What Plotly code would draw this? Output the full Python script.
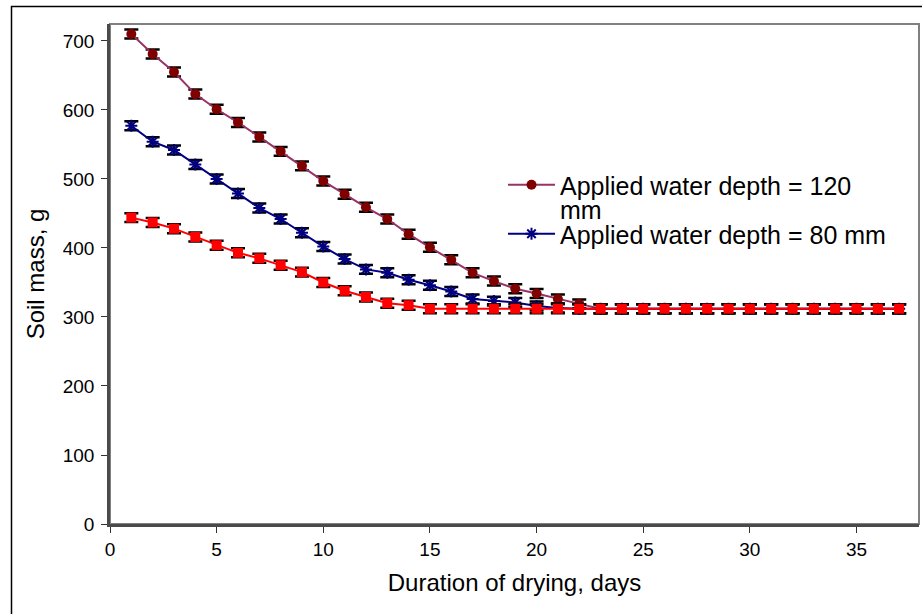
import plotly.graph_objects as go

days = list(range(1, 38))

mass_120 = [710, 681, 655, 623, 601, 582, 561, 540, 519, 497, 478, 459, 442, 420, 401,
            383, 364, 352, 341, 334, 326, 319, 312, 312, 312, 312, 312, 312, 312, 312,
            312, 312, 312, 312, 312, 312, 312]
mass_80 = [577, 554, 542, 521, 500, 479, 458, 442, 422, 402, 384, 369, 364, 354, 346,
           337, 326, 323, 321, 316, 313, 312, 312, 312, 312, 312, 312, 312, 312, 312,
           312, 312, 312, 312, 312, 312, 312]
mass_40 = [444, 437, 428, 416, 404, 393, 385, 375, 365, 350, 338, 329, 320, 317, 312,
           312, 312, 312, 312, 312, 312, 312, 312, 312, 312, 312, 312, 312, 312, 312,
           312, 312, 312, 312, 312, 312, 312]
err_120 = 6.5
err_80 = 6.5
err_40 = 6.5

name_120 = "Applied water depth = 120"
name_120_wrap = "mm"
name_80 = "Applied water depth = 80 mm"
name_40 = "Applied water depth = 40 mm"

x_title = "Duration of drying, days"
y_title = "Soil mass, g"

FONT = "Liberation Sans, Arial, sans-serif"

def ebar(v):
    return dict(type="constant", value=v, color="black", thickness=2.5, width=7)

fig = go.Figure()
fig.add_trace(go.Scatter(
    x=days, y=mass_120, name=name_120, mode="lines+markers", legend="legend",
    line=dict(color="#993366", width=2),
    marker=dict(symbol="circle", size=10, color="#800000"),
    error_y=ebar(err_120)))
fig.add_trace(go.Scatter(
    x=days, y=mass_80, name=name_80, mode="lines+markers", legend="legend2",
    line=dict(color="#000080", width=2),
    marker=dict(symbol="asterisk-open", size=10, color="#000080",
                line=dict(color="#000080", width=2)),
    error_y=ebar(err_80)))
fig.add_trace(go.Scatter(
    x=days, y=mass_40, name=name_40, mode="lines+markers", showlegend=False,
    line=dict(color="#FF0000", width=2),
    marker=dict(symbol="square", size=10, color="#FF0000"),
    error_y=ebar(err_40)))

L, T, PW, PH = 110, 24, 809, 500

def px(xp):
    return (xp - L) / PW

def py(yp):
    return (T + PH - yp) / PH

fig.update_layout(
    width=922, height=614,
    margin=dict(l=L, r=922 - L - PW, t=T, b=614 - T - PH),
    paper_bgcolor="white", plot_bgcolor="white",
    font=dict(family=FONT, color="black", size=19),
    legend=dict(x=px(503), y=py(185), xanchor="left", yanchor="middle",
                font=dict(size=25, family=FONT), bgcolor="rgba(0,0,0,0)",
                itemwidth=47),
    legend2=dict(x=px(503), y=py(234), xanchor="left", yanchor="middle",
                 font=dict(size=25, family=FONT), bgcolor="rgba(0,0,0,0)",
                 itemwidth=47),
    annotations=[
        dict(text=name_120_wrap, xref="paper", yref="paper", x=px(558), y=py(210),
             xanchor="left", yanchor="middle", showarrow=False,
             font=dict(size=25, family=FONT, color="black")),
    ],
    xaxis=dict(range=[0, 37.93], tickvals=[0, 5, 10, 15, 20, 25, 30, 35],
               showgrid=False, zeroline=False, showline=True, linecolor="#4a4a4a",
               linewidth=2.5, ticks="outside", ticklen=6, tickcolor="#333333",
               tickfont=dict(size=19),
               title=dict(text=x_title, font=dict(size=24), standoff=16)),
    yaxis=dict(range=[0, 724.6], tickvals=[0, 100, 200, 300, 400, 500, 600, 700],
               showgrid=False, zeroline=False, showline=True, linecolor="#4a4a4a",
               linewidth=2.5, ticks="outside", ticklen=6, tickcolor="#333333",
               tickfont=dict(size=19), ticklabelstandoff=3,
               title=dict(text=y_title, font=dict(size=24), standoff=12)),
    shapes=[
        dict(type="rect", xref="paper", yref="paper", x0=0, x1=1, y0=0, y1=1,
             line=dict(color="#808080", width=2), layer="below"),
        dict(type="rect", xref="paper", yref="paper",
             x0=px(11.5), x1=px(930), y0=py(620), y1=py(6.5),
             line=dict(color="black", width=1.5), layer="below"),
    ],
)

fig.write_html("out.html")
